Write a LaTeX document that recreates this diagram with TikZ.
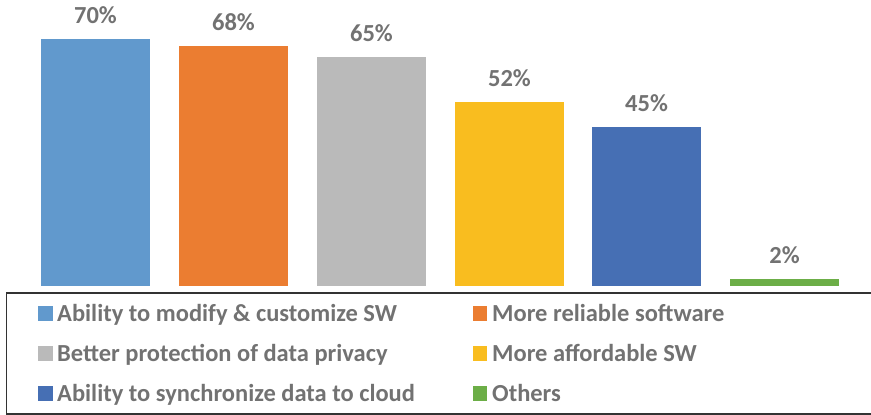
\documentclass[tikz,border=0pt]{standalone}
\usepackage{fontspec}
\setmainfont{Carlito}
\definecolor{cA}{RGB}{97,153,205}
\definecolor{cB}{RGB}{235,125,49}
\definecolor{cC}{RGB}{186,186,186}
\definecolor{cD}{RGB}{249,189,31}
\definecolor{cE}{RGB}{70,111,180}
\definecolor{cF}{RGB}{108,174,71}
\definecolor{txt}{RGB}{114,114,114}
\begin{document}
\begin{tikzpicture}[x=1pt,y=-1pt,
  val/.style={font=\bfseries\fontsize{24.5}{24}\selectfont,text=txt,anchor=base,inner sep=0pt},
  leg/.style={font=\bfseries\fontsize{24.5}{24}\selectfont,text=txt,anchor=base west,inner sep=0pt},
  sq/.style={inner sep=0pt,minimum size=14.5pt,anchor=south west}]
\useasboundingbox (0,0) rectangle (871,415);
% bars
\def\base{285.7}
\foreach \n/\x/\p/\c in {a/41/70/cA,b/179/68/cB,c/317/65/cC,d/455/52/cD,e/592/45/cE,f/730/2/cF}{
  \pgfmathsetmacro\top{\base-3.524*\p}
  \fill[\c] (\x,\base) rectangle (\x+109,\top) coordinate (t\n);
  \node[val] (l\n) at (\x+54.5,\top-15.5) {\p\%};
}
% legend frame
\draw[line width=1.2pt,black!80] (871,293) -- (6.5,293) -- (6.5,414) -- (871,414);
\node[sq,fill=cA] (sa) at (38,321) {};
\node[leg] (ta) at (57,321) {Ability to modify \& customize SW};
\node[sq,fill=cB] (sb) at (472.5,321) {};
\node[leg] (tb) at (492,321) {More reliable software};
\node[sq,fill=cC] (sc) at (38,361) {};
\node[leg] (tc) at (57,361) {Better protection of data privacy};
\node[sq,fill=cD] (sd) at (472.5,361) {};
\node[leg] (td) at (492,361) {More affordable SW};
\node[sq,fill=cE] (se) at (38,401) {};
\node[leg] (te) at (57,401) {Ability to synchronize data to cloud};
\node[sq,fill=cF] (sf) at (472.5,401) {};
\node[leg] (tf) at (492,401) {Others};
\end{tikzpicture}
\end{document}
